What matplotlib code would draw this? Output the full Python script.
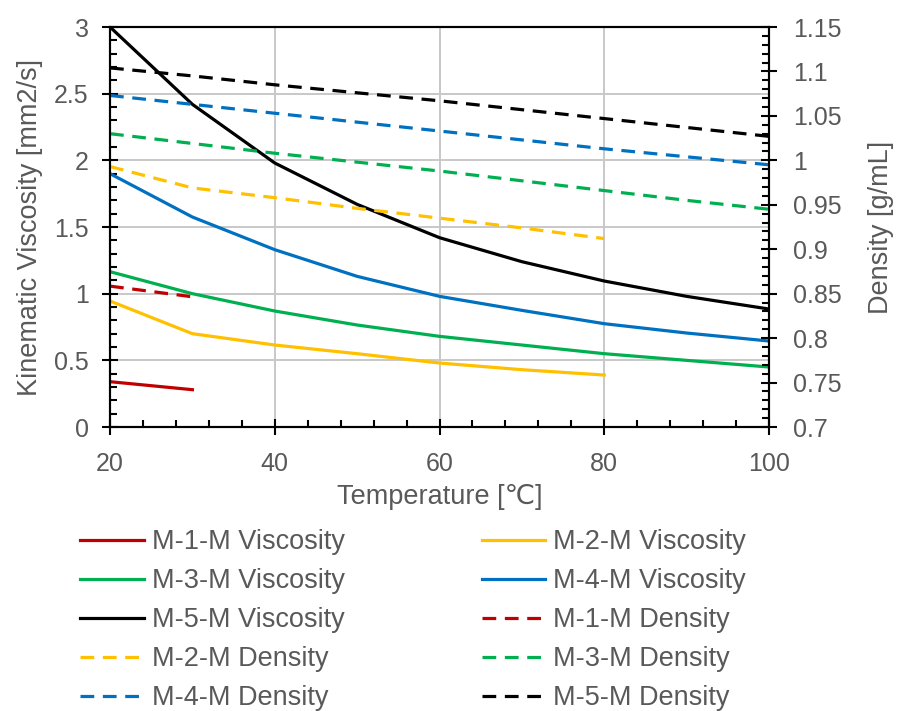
import matplotlib
matplotlib.use("Agg")
import matplotlib.pyplot as plt
from matplotlib.ticker import MultipleLocator

plt.rcParams['font.family'] = ['Liberation Sans', 'DejaVu Sans']

# temperatures [C]
temp = [20, 30, 40, 50, 60, 70, 80, 90, 100]

# kinematic viscosity [mm2/s]
visc_m1 = [0.34, 0.28]
visc_m2 = [0.945, 0.70, 0.615, 0.55, 0.48, 0.43, 0.39]
visc_m3 = [1.165, 1.0, 0.87, 0.765, 0.68, 0.615, 0.55, 0.50, 0.45]
visc_m4 = [1.90, 1.575, 1.33, 1.13, 0.98, 0.875, 0.775, 0.705, 0.645]
visc_m5 = [3.0, 2.42, 1.98, 1.67, 1.42, 1.24, 1.095, 0.98, 0.885]

# density [g/mL]
dens_m1 = [0.8585, 0.8465]
dens_m2 = [0.993, 0.969, 0.958, 0.946, 0.935, 0.924, 0.912]
dens_m3 = [1.030, 1.019, 1.008, 0.998, 0.988, 0.977, 0.966, 0.955, 0.945]
dens_m4 = [1.073, 1.063, 1.053, 1.043, 1.033, 1.023, 1.013, 1.004, 0.995]
dens_m5 = [1.104, 1.095, 1.085, 1.076, 1.067, 1.057, 1.047, 1.037, 1.027]

names = ["M-1-M", "M-2-M", "M-3-M", "M-4-M", "M-5-M"]
colors = ["#C00000", "#FFC000", "#00B050", "#0070C0", "#000000"]
visc = [visc_m1, visc_m2, visc_m3, visc_m4, visc_m5]
dens = [dens_m1, dens_m2, dens_m3, dens_m4, dens_m5]

gray = "#595959"
fs = 18
lfs = 19.5
lw = 2.3

fig = plt.figure(figsize=(8.99, 7.11), dpi=100)
ax = fig.add_axes([0.1224, 0.3994, 0.733, 0.5626])
ax2 = ax.twinx()

vis_lines = []
for n, c, v in zip(names, colors, visc):
    l, = ax.plot(temp[:len(v)], v, color=c, lw=lw, label=n + " Viscosity")
    vis_lines.append(l)
den_lines = []
for n, c, d in zip(names, colors, dens):
    l, = ax2.plot(temp[:len(d)], d, color=c, lw=lw, dashes=(4.3, 2.7),
                  label=n + " Density")
    den_lines.append(l)

ax.set_xlim(20, 100)
ax.set_ylim(0, 3)
ax2.set_ylim(0.7, 1.15)
ax.xaxis.set_major_locator(MultipleLocator(20))
ax.xaxis.set_minor_locator(MultipleLocator(4))
ax.yaxis.set_major_locator(MultipleLocator(0.5))
ax.yaxis.set_minor_locator(MultipleLocator(0.1))
ax2.yaxis.set_major_locator(MultipleLocator(0.05))
ax2.yaxis.set_minor_locator(MultipleLocator(0.01))
ax.yaxis.set_major_formatter(lambda v, p: f"{v:g}")
ax2.yaxis.set_major_formatter(lambda v, p: f"{v:.2f}".rstrip("0").rstrip("."))

ax.grid(True, which="major", color="#C8C8C8", lw=1.4)
ax.set_axisbelow(True)

for a in (ax, ax2):
    for s in a.spines.values():
        s.set_linewidth(1.5)
        s.set_color("black")
    a.tick_params(which="major", direction="inout", length=11, width=1.5,
                  labelsize=fs, labelcolor=gray, color="black")
    a.tick_params(which="minor", direction="in", length=5, width=1.5,
                  color="black")
ax.tick_params(axis="y", which="major", pad=10)
ax.tick_params(axis="x", which="major", pad=12.5)
ax2.tick_params(axis="y", which="major", pad=12)

ax.set_xlabel("Temperature [℃]", fontsize=lfs, color=gray, labelpad=6)
ax.set_ylabel("Kinematic Viscosity [mm2/s]", fontsize=lfs, color=gray, labelpad=8)
ax2.set_ylabel("Density [g/mL]", fontsize=lfs, color=gray, labelpad=19)

# legend ordered row-wise as in the original (matplotlib fills columns first)
handles = vis_lines + den_lines
order = [0, 2, 4, 6, 8, 1, 3, 5, 7, 9]
hs = [handles[i] for i in order]
leg = fig.legend(hs, [h.get_label() for h in hs], loc="upper left",
                 bbox_to_anchor=(80 / 899, (711 - 529) / 711), ncol=2,
                 frameon=False, fontsize=lfs, handlelength=2.35,
                 handletextpad=0.3, columnspacing=5.05, labelspacing=0.48,
                 borderpad=0, borderaxespad=0)
for t in leg.get_texts():
    t.set_color(gray)

fig.savefig("out.png", dpi=100)
